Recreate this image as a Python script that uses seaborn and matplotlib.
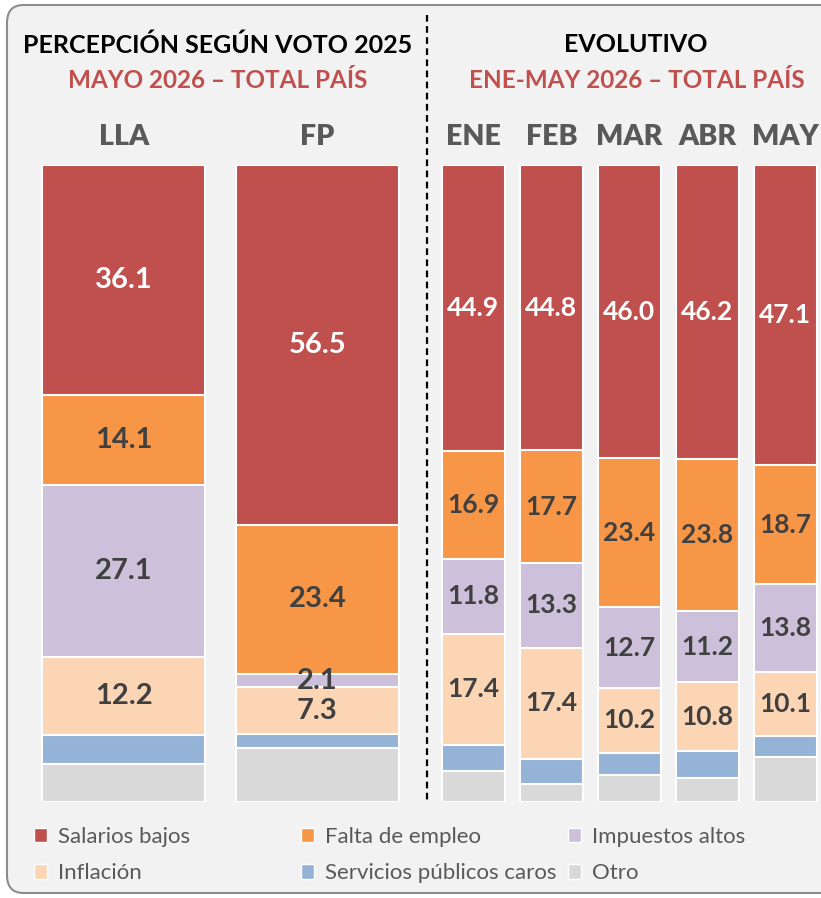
# stacked bars: perception by 2025 vote (left) and monthly evolution (right)
import numpy as np
import pandas as pd
import matplotlib.pyplot as plt
import seaborn as sns
from matplotlib.patches import FancyBboxPatch, Patch

# data
series = ["Salarios bajos", "Falta de empleo", "Impuestos altos",
          "Inflación", "Servicios públicos caros", "Otro"]
colors = ["#c0504d", "#f79646", "#ccc0da", "#fcd5b5", "#95b3d7", "#d9d9d9"]

cats_voto = ["LLA", "FP"]
salarios_voto = [36.1, 56.5]
falta_voto = [14.1, 23.4]
impuestos_voto = [27.1, 2.1]
inflacion_voto = [12.2, 7.3]
servicios_voto = [4.6, 2.2]
otro_voto = [5.9, 8.5]

cats_mes = ["ENE", "FEB", "MAR", "ABR", "MAY"]
salarios_mes = [44.9, 44.8, 46.0, 46.2, 47.1]
falta_mes = [16.9, 17.7, 23.4, 23.8, 18.7]
impuestos_mes = [11.8, 13.3, 12.7, 11.2, 13.8]
inflacion_mes = [17.4, 17.4, 10.2, 10.8, 10.1]
servicios_mes = [4.2, 3.9, 3.5, 4.2, 3.3]
otro_mes = [4.8, 2.9, 4.2, 3.8, 7.0]

sns.set_style("white")
plt.rcParams["font.family"] = ["Lato", "DejaVu Sans"]

fig = plt.figure(figsize=(8.21, 8.98), dpi=100)
fig.patch.set_facecolor("white")

# grey rounded frame, behind the axes
frame = FancyBboxPatch((7 / 821, 5 / 898), 1.1, 888 / 898,
                       boxstyle="round,pad=0,rounding_size=0.02",
                       transform=fig.transFigure, facecolor="#f2f2f2",
                       edgecolor="#8c8c8c", linewidth=1.5, zorder=-5)
fig.patches.append(frame)

W, H = 821, 898
bar_bottom, bar_top = 802, 165


def make_ax(left_px, right_px):
    ax = fig.add_axes([left_px / W, (H - bar_bottom) / H,
                       (right_px - left_px) / W, (bar_bottom - bar_top) / H])
    ax.patch.set_alpha(0)
    return ax


def stacked(ax, cats, vals, width, lab_size):
    df = pd.DataFrame(dict(zip(series, vals)), index=cats)
    order = series[::-1]  # bottom -> top
    cum = df[order].cumsum(axis=1)
    # draw from the tallest cumulative bar down so each lower segment sits on top
    for name, col in zip(series, colors):
        sns.barplot(x=cats, y=cum[name].values, color=col, saturation=1,
                    width=width, edgecolor="white", linewidth=1.5, ax=ax)
    for i, cat in enumerate(cats):
        for j, name in enumerate(series[:4]):
            v = df.loc[cat, name]
            y = cum.loc[cat, name] - v / 2
            ax.text(i, y, f"{v:.1f}", ha="center", va="center",
                    fontsize=lab_size, fontweight="bold",
                    color="white" if j == 0 else "#404040")
    ax.set_xlim(-0.5, len(cats) - 0.5)
    ax.set_ylim(0, 100)
    ax.axis("off")


ax1 = make_ax(27, 414)
stacked(ax1, cats_voto,
        [salarios_voto, falta_voto, impuestos_voto, inflacion_voto, servicios_voto, otro_voto],
        0.84, 21)
ax2 = make_ax(434.5, 824)
stacked(ax2, cats_mes,
        [salarios_mes, falta_mes, impuestos_mes, inflacion_mes, servicios_mes, otro_mes],
        0.81, 19)

# category labels above bars
for ax, cats in [(ax1, cats_voto), (ax2, cats_mes)]:
    for i, c in enumerate(cats):
        ax.text(i, 100 + 28 / 6.37, c, ha="center", va="center",
                fontsize=20.5, fontweight="heavy", color="#595959")

# titles
fig.text(218 / W, 1 - 45 / H, "PERCEPCIÓN SEGÚN VOTO 2025", ha="center", va="center",
         fontsize=18, fontweight="bold", color="black")
fig.text(218 / W, 1 - 80 / H, "MAYO 2026 – TOTAL PAÍS", ha="center", va="center",
         fontsize=17.5, fontweight="bold", color="#c0504d")
fig.text(636 / W, 1 - 45 / H, "EVOLUTIVO", ha="center", va="center",
         fontsize=18, fontweight="bold", color="black")
fig.text(637 / W, 1 - 80 / H, "ENE-MAY 2026 – TOTAL PAÍS", ha="center", va="center",
         fontsize=17.5, fontweight="bold", color="#c0504d")

# dashed divider
fig.add_artist(plt.Line2D([427 / W, 427 / W], [1 - 15 / H, 1 - 800 / H],
                          transform=fig.transFigure, color="black",
                          linestyle=(0, (3, 2)), linewidth=1.6))

# legend: three columns placed separately so they are evenly spaced
handles = [Patch(facecolor=c, edgecolor="white", label=s) for s, c in zip(series, colors)]
for k, x0 in enumerate([14, 281, 548]):
    cols = [k, k + 3]
    fig.legend([handles[i] for i in cols], [series[i] for i in cols],
               ncol=1, loc="center left", bbox_to_anchor=(x0 / W, 1 - 855 / H),
               frameon=False, fontsize=16, labelcolor="#595959",
               handlelength=0.6, handleheight=0.6, handletextpad=0.5,
               labelspacing=0.75)

plt.savefig("out.png", dpi=100)
